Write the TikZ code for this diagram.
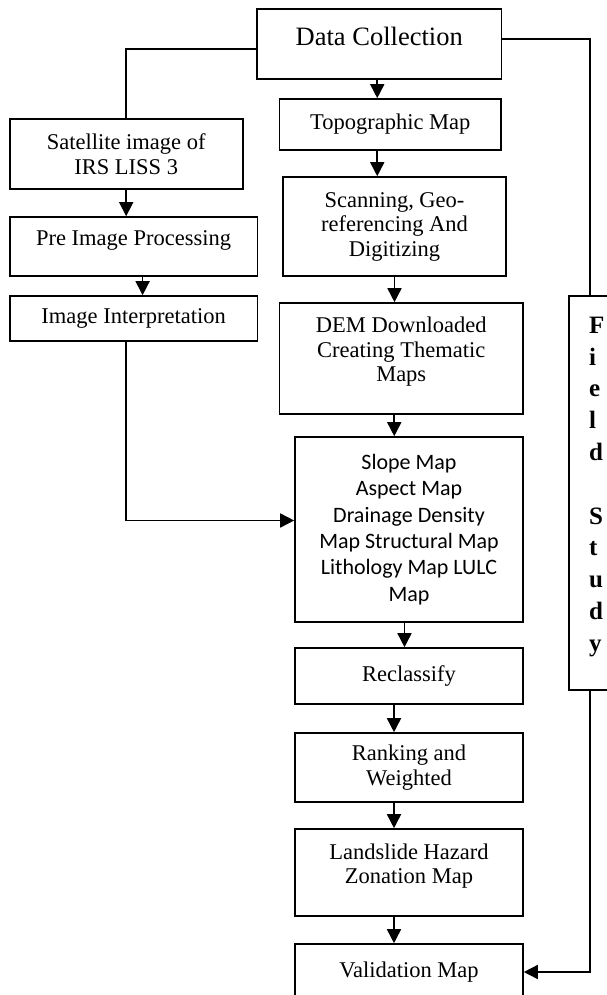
\documentclass[tikz,border=0pt]{standalone}
\usepackage{fontspec}
\setmainfont{Liberation Serif}
\newfontfamily\calibri{Carlito}
\usetikzlibrary{arrows.meta}

\begin{document}
\begin{tikzpicture}[x=1pt,y=-1pt]
\tikzstyle{proc}=[draw,line width=1.6pt,inner sep=0pt,align=center,font=\fontsize{22.5}{24.5}\selectfont]
\tikzstyle{flow}=[line width=1.6pt,-{Triangle[width=14pt,length=14pt]}]
\tikzstyle{link}=[line width=1.6pt]
\useasboundingbox (0,0) rectangle (607,995);

% main column
\node [proc,minimum width=244.5pt,minimum height=70pt,text depth=15pt,font=\fontsize{26.5}{28}\selectfont] (dc) at (379.25,44) {Data Collection};
\node [proc,minimum width=221.5pt,minimum height=51pt] (topo) at (390.25,124.5) {Topographic Map};
\node [proc,minimum width=223pt,minimum height=99pt] (scan) at (394.5,226.5) {Scanning, Geo-\\referencing And\\Digitizing};
\node [proc,minimum width=243.5pt,minimum height=111pt,text depth=18pt] (dem) at (401.25,358.5) {DEM Downloaded\\Creating Thematic\\Maps};
\node [proc,minimum width=228pt,minimum height=185pt,font=\calibri\fontsize{22}{26.3}\selectfont] (slope) at (409,529.5) {Slope Map\\Aspect Map\\Drainage Density\\Map Structural Map\\Lithology Map LULC\\Map};
\node [proc,minimum width=228pt,minimum height=56pt] (recl) at (409,676) {Reclassify};
\node [proc,minimum width=228pt,minimum height=69pt] (rank) at (409,767.5) {Ranking and\\Weighted};
\node [proc,minimum width=228pt,minimum height=87pt,text depth=18pt] (land) at (409,872.5) {Landslide Hazard\\Zonation Map};
\node [proc,minimum width=228pt,minimum height=56pt] (valid) at (409,972) {Validation Map};

% left column
\node [proc,minimum width=233pt,minimum height=70pt] (sat) at (126.2,154) {Satellite image of\\IRS LISS 3};
\node [proc,minimum width=247.8pt,minimum height=59pt,text depth=17pt] (pre) at (133.6,246.5) {Pre Image Processing};
\node [proc,minimum width=247.8pt,minimum height=45pt] (imint) at (133.6,318.5) {Image Interpretation};

% field study, runs off the right edge
\node [proc,align=left,text width=50pt,inner xsep=20pt,minimum height=394pt,font=\bfseries\fontsize{25}{31.8}\selectfont] (field) at (614,493) {F\\i\\e\\l\\d\\\mbox{}\\S\\t\\u\\d\\y\\[-14pt]\mbox{}};

\draw[flow] ([xshift=-2pt]dc.south) -- ([xshift=-2pt]dc.south |- topo.north);
\draw[flow] ([xshift=-13pt]topo.south) -- ([xshift=-13pt]topo.south |- scan.north);
\draw[flow] (scan.south) -- (scan.south |- dem.north);
\draw[flow] ([xshift=-7pt]dem.south) -- ([xshift=-7pt]dem.south |- slope.north);
\draw[flow] ([xshift=-4.5pt]slope.south) -- ([xshift=-4.5pt]slope.south |- recl.north);
\draw[flow] ([xshift=-15pt]recl.south) -- ([xshift=-15pt]recl.south |- rank.north);
\draw[flow] ([xshift=-15pt]rank.south) -- ([xshift=-15pt]rank.south |- land.north);
\draw[flow] ([xshift=-15pt]land.south) -- ([xshift=-15pt]land.south |- valid.north);

\draw[link] ([yshift=-5pt]dc.west) -| (sat.north);
\draw[flow] (sat.south) -- (sat.south |- pre.north);
\draw[flow] ([xshift=9pt]pre.south) -- ([xshift=9pt]pre.south |- imint.north);
\draw[flow] ([xshift=-7.5pt]imint.south) |- ([yshift=9pt]slope.west);

\draw[link] ([yshift=5pt]dc.east) -| ([xshift=-24pt]field.north);
\draw[flow] ([xshift=-24pt]field.south) |- (valid.east);
\end{tikzpicture}
\end{document}
